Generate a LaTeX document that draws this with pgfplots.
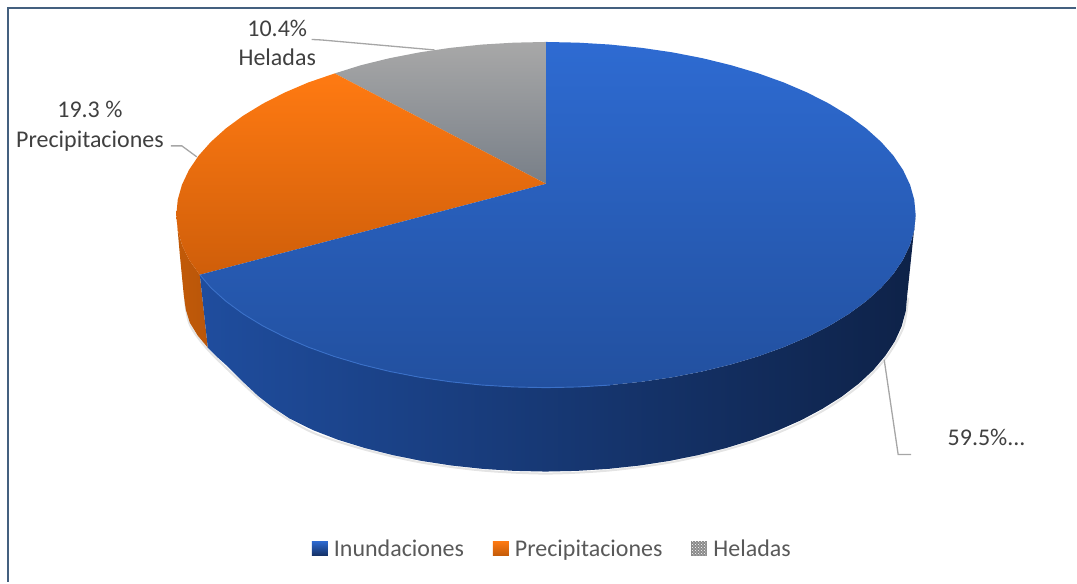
\documentclass[border=0pt]{standalone}
\usepackage{pgfplots}
\pgfplotsset{compat=1.18}
\usepackage{fontspec}
\setmainfont{Carlito}
\usetikzlibrary{patterns}
\definecolor{txt}{HTML}{404040}
\definecolor{legtxt}{HTML}{595959}
\definecolor{lead}{HTML}{A6A6A6}
\definecolor{frame}{HTML}{44607F}
\definecolor{HTMLo1}{HTML}{C25A08}
\definecolor{HTMLo2}{HTML}{B9560A}
\definecolor{HTMLo3}{HTML}{FF7A12}
\definecolor{HTMLo4}{HTML}{CF5E0A}
\definecolor{HTMLb1}{HTML}{1F4D9E}
\definecolor{HTMLb2}{HTML}{142F62}
\definecolor{HTMLb3}{HTML}{0E2248}
\definecolor{HTMLb4}{HTML}{2E6BD2}
\definecolor{HTMLb5}{HTML}{22509F}
\definecolor{HTMLb6}{HTML}{3A70C8}
\definecolor{HTMLg1}{HTML}{A8A8A8}
\definecolor{HTMLg2}{HTML}{787F88}
\definecolor{HTMLg3}{HTML}{8A8A8A}
\begin{document}
\begin{tikzpicture}
\begin{axis}[
  width=1077pt,height=583pt,scale only axis,
  xmin=0,xmax=1077,ymin=0,ymax=583,y dir=reverse,
  hide axis,clip=false,
  legend columns=3,
  legend cell align=left,
  legend style={at={(axis cs:312,549)},anchor=west,draw=none,fill=none,
    font=\fontsize{24}{25}\selectfont\color{legtxt},inner sep=0pt,
    nodes={inner sep=1pt},
    /tikz/column 1/.style={column sep=5pt},
    /tikz/column 2/.style={column sep=28pt},
    /tikz/column 3/.style={column sep=5pt},
    /tikz/column 4/.style={column sep=28pt},
    /tikz/column 5/.style={column sep=5pt}},
]
% page extent
\path (axis cs:0,0) rectangle (axis cs:1077,583);
% frame
\addplot[frame,line width=2pt,forget plot] coordinates {(1077,8)(8,8)(8,583)};
% soft shadow below the side
\addplot[gray!60,line width=2pt,opacity=0.35,smooth,forget plot] coordinates {
(909,298)(904,328)(887,358)(860,386)(824,411)(779,433)(727,450)(670,463)(609,471)(546,474)(483,471)(422,463)(365,450)(313,433)(272,409)(243,384)(208,350)(190,325)(185,300)};
% side, Precipitaciones
\addplot[draw=none,forget plot,left color=HTMLo1,right color=HTMLo2] coordinates {
(176.5,215)(177.9,230.1)(182.1,245)(189.1,259.8)(200,275)(208,348)(198,336)(190,323)(186,310)(184,296)(180,255)} -- cycle;
% side, Inundaciones
\addplot[draw=none,forget plot,left color=HTMLb1,middle color=HTMLb2,right color=HTMLb3] coordinates {
(200,275)(211.2,288.1)(226.1,301.5)(243.4,314.2)(263.1,326.2)(284.9,337.3)(308.7,347.5)(334.3,356.7)(361.5,364.8)(390.1,371.8)(420,377.6)(450.7,382.1)(482.3,385.4)(514.2,387.3)(546.5,388)(578.8,387.3)(610.7,385.4)(642.3,382.1)(673,377.6)(702.9,371.8)(731.5,364.8)(758.7,356.7)(784.3,347.5)(808.1,337.3)(829.9,326.2)(849.6,314.2)(866.9,301.5)(881.8,288.1)(894.2,274.2)(903.9,259.8)(910.9,245)(915.1,230.1)(916.5,215)
(908,296)(906.6,311.3)(902.5,326.6)(895.7,341.6)(886,356.2)(874.1,370.4)(859.5,384)(842.5,397)(823.3,409.1)(802,420.5)(778.7,430.8)(753.6,440.2)(727,448.4)(699,455.5)(669.8,461.4)(639.7,466)(608.9,469.3)(577.6,471.3)(546,472)(514.4,471.3)(483.1,469.3)(452.3,466)(422.2,461.4)(393,455.5)(365,448.4)(338.4,440.2)(313.3,430.5)(290,419)(272,407)(258,396)(243,382)(227,366)(217,357)(208,348)} -- cycle;
% top, Heladas
\addplot[draw=none,forget plot,top color=HTMLg1,bottom color=HTMLg2] coordinates {
(546.5,184)(546.5,42)(514.2,42.7)(482.3,44.6)(450.7,47.9)(420,52.4)(390.1,58.2)(361.5,65.2)(335,73.5)} -- cycle;
% top, Precipitaciones
\addplot[draw=none,forget plot,top color=HTMLo3,bottom color=HTMLo4] coordinates {
(546.5,184)(335,73.5)(308.7,82.5)(284.9,92.7)(263.1,103.8)(243.4,115.8)(226.1,128.5)(211.2,141.9)(198.8,155.8)(189.1,170.2)(182.1,185)(177.9,199.9)(176.5,215)(177.9,230.1)(182.1,245)(189.1,259.8)(200,275)} -- cycle;
% top, Inundaciones
\addplot[draw=none,forget plot,top color=HTMLb4,bottom color=HTMLb5] coordinates {
(546.5,184)(546.5,42)(578.8,42.7)(610.7,44.6)(642.3,47.9)(673,52.4)(702.9,58.2)(731.5,65.2)(758.7,73.3)(784.3,82.5)(808.1,92.7)(829.9,103.8)(849.6,115.8)(866.9,128.5)(881.8,141.9)(894.2,155.8)(903.9,170.2)(910.9,185)(915.1,199.9)(916.5,215)(915.1,230.1)(910.9,245)(903.9,259.8)(894.2,274.2)(881.8,288.1)(866.9,301.5)(849.6,314.2)(829.9,326.2)(808.1,337.3)(784.3,347.5)(758.7,356.7)(731.5,364.8)(702.9,371.8)(673,377.6)(642.3,382.1)(610.7,385.4)(578.8,387.3)(546.5,388)(514.2,387.3)(482.3,385.4)(450.7,382.1)(420,377.6)(390.1,371.8)(361.5,364.8)(334.3,356.7)(308.7,347.5)(284.9,337.3)(263.1,326.2)(243.4,314.2)(226.1,301.5)(211.2,288.1)(200,275)} -- cycle;
% lighter rim along the front edge
\addplot[HTMLb6,line width=0.9pt,forget plot] coordinates {
(200,275)(211.2,288.1)(226.1,301.5)(243.4,314.2)(263.1,326.2)(284.9,337.3)(308.7,347.5)(334.3,356.7)(361.5,364.8)(390.1,371.8)(420,377.6)(450.7,382.1)(482.3,385.4)(514.2,387.3)(546.5,388)(578.8,387.3)(610.7,385.4)};
% leader lines
\addplot[lead,line width=1.3pt,forget plot] coordinates {(312,39.5)(322,40)(435,50)};
\addplot[lead,line width=1.3pt,forget plot] coordinates {(171,146)(182,146)(197,157)};
\addplot[lead,line width=1.3pt,forget plot] coordinates {(885,360)(899,455)(912,455)};
% labels
\node[txt,font=\fontsize{24}{24}\selectfont] at (axis cs:277.5,28) {10.4\%};
\node[txt,font=\fontsize{24}{24}\selectfont] at (axis cs:277.5,57) {Heladas};
\node[txt,font=\fontsize{24}{24}\selectfont] at (axis cs:90,110) {19.3 \%};
\node[txt,font=\fontsize{24}{24}\selectfont] at (axis cs:90,141) {Precipitaciones};
\node[txt,font=\fontsize{24}{24}\selectfont] at (axis cs:987.5,438) {59.5\%...};
% legend
\addlegendimage{legend image code/.code={\shade[draw=none,top color=HTMLb4,bottom color=HTMLb2] (0pt,-7.5pt) rectangle (16pt,7.5pt);}}
\addlegendentry{Inundaciones}
\addlegendimage{legend image code/.code={\shade[draw=none,top color=HTMLo3,bottom color=HTMLo1] (0pt,-7.5pt) rectangle (16pt,7.5pt);}}
\addlegendentry{Precipitaciones}
\addlegendimage{legend image code/.code={\fill[draw=none,HTMLg3] (0pt,-7.5pt) rectangle (16pt,7.5pt);\fill[draw=none,pattern=crosshatch dots,pattern color=white] (0pt,-7.5pt) rectangle (16pt,7.5pt);}}
\addlegendentry{Heladas}
\end{axis}
\end{tikzpicture}
\end{document}
